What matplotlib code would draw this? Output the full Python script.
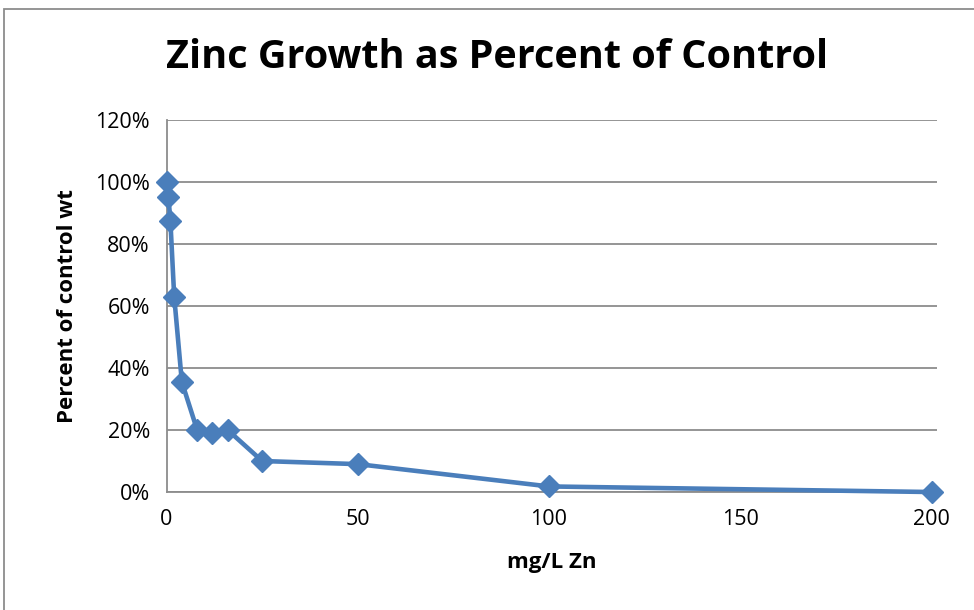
import matplotlib.pyplot as plt
from matplotlib.ticker import FuncFormatter
from matplotlib.patches import Rectangle

# zinc dose (mg/L) vs growth as fraction of control weight
zn_mg_l = [0, 0.5, 1, 2, 4, 8, 12, 16, 25, 50, 100, 200]
pct_control = [1.00, 0.95, 0.875, 0.63, 0.355, 0.20, 0.19, 0.20, 0.10, 0.09, 0.018, 0.0]

plt.rcParams['font.family'] = ['Open Sans', 'DejaVu Sans']

fig = plt.figure(figsize=(9.74, 6.1), dpi=100)
ax = fig.add_axes([0.171, 0.1934, 0.7905, 0.6099])

ax.plot(zn_mg_l, pct_control, color='#4A7EBB', lw=3.3, marker='D',
        markersize=11.5, markeredgecolor='#4A7EBB', zorder=3, clip_on=False)

ax.set_xlim(0, 201.3)
ax.set_ylim(0, 1.2)
ax.set_xticks([0, 50, 100, 150, 200])
ax.set_yticks([0, 0.2, 0.4, 0.6, 0.8, 1.0, 1.2])
ax.yaxis.set_major_formatter(FuncFormatter(lambda v, p: '{:.0f}%'.format(v * 100)))
ax.tick_params(length=0, labelsize=15.5)
ax.tick_params(axis='x', pad=12)
ax.tick_params(axis='y', pad=12)

ax.grid(axis='y', color='#8c8c8c', lw=1.3)
ax.set_axisbelow(True)
for s in ['top', 'right']:
    ax.spines[s].set_visible(False)
for s in ['left', 'bottom']:
    ax.spines[s].set_color('#8c8c8c')
    ax.spines[s].set_linewidth(1.3)

ax.set_xlabel('mg/L Zn', fontsize=16, fontweight='bold', labelpad=16)
ax.set_ylabel('Percent of control wt', fontsize=16, fontweight='bold', labelpad=12)

fig.text(0.51, 0.905, 'Zinc Growth as Percent of Control', ha='center', va='center',
         fontsize=28.5, fontweight='bold')

# chart frame
fig.patches.append(Rectangle((4 / 974, -0.1), 1.2, 1 - 9 / 610 + 0.1,
                             transform=fig.transFigure, fill=False,
                             edgecolor='#8c8c8c', lw=1.3))

fig.savefig('out.png', dpi=100)
